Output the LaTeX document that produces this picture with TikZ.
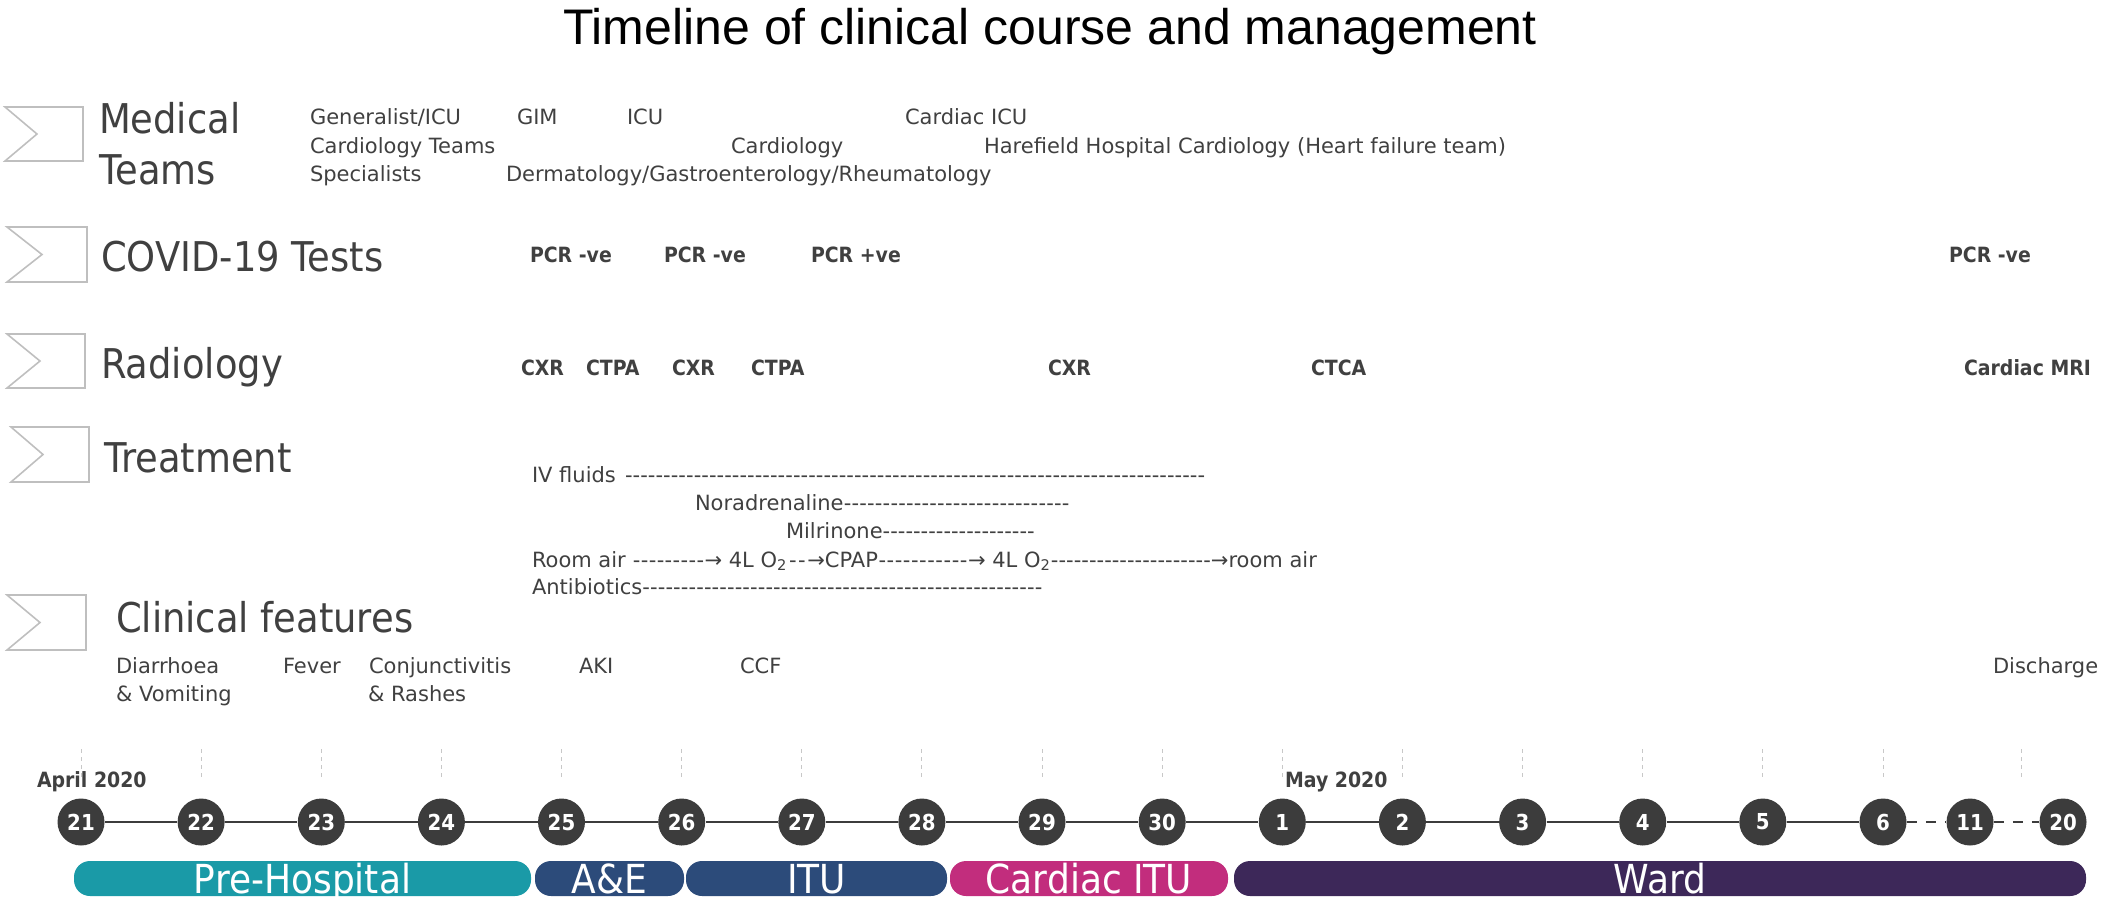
\documentclass[tikz,border=0pt]{standalone}
\usepackage{fontspec}
\setmainfont{DejaVu Sans}
\newfontfamily\condf{DejaVu Sans}[FakeStretch=0.9]
\newfontfamily\titlef{Liberation Sans}
\definecolor{txtgray}{HTML}{404040}
\definecolor{chevgray}{HTML}{BFBFBF}
\definecolor{gridgray}{HTML}{C8C8C8}
\definecolor{circgray}{HTML}{3C3C3C}
\definecolor{cteal}{HTML}{1A9AA7}
\definecolor{cnavy}{HTML}{2C4B7A}
\definecolor{cmag}{HTML}{C22D7D}
\definecolor{cpurp}{HTML}{3D2859}
\newcommand\dashrun[1]{\hbox to #1{\xleaders\hbox{-}\hfill}}
\begin{document}
\begin{tikzpicture}[x=0.5pt,y=-0.5pt,
  chev/.style={draw=chevgray, line width=0.8pt},
  head/.style={anchor=base west, inner sep=0pt, outer sep=0pt, text=txtgray, font=\condf\fontsize{20.5pt}{24pt}\selectfont},
  txt/.style={anchor=base west, inner sep=0pt, outer sep=0pt, text=txtgray, font=\fontsize{10.5pt}{13pt}\selectfont},
  btxt/.style={anchor=base west, inner sep=0pt, outer sep=0pt, text=txtgray, font=\condf\bfseries\fontsize{10.5pt}{13pt}\selectfont},
  day/.style={circle, fill=circgray, minimum size=23.5pt, inner sep=0pt, text=white, font=\condf\bfseries\fontsize{11pt}{12pt}\selectfont},
  gridl/.style={draw=gridgray, line width=0.5pt, dash pattern=on 2pt off 2pt},
  tline/.style={draw=circgray, line width=1.2pt},
  tdash/.style={draw=circgray, line width=1.3pt, dash pattern=on 5pt off 4.5pt},
  phase/.style={rectangle, rounded corners=8pt, minimum height=17.5pt, inner sep=0pt},
  phasetxt/.style={anchor=base, inner sep=0pt, text=white, font=\condf\fontsize{20pt}{24pt}\selectfont}
]
\useasboundingbox (0,0) rectangle (2102,896);

% title
\node[anchor=base, inner sep=0pt, font=\titlef\fontsize{25pt}{30pt}\selectfont] (title) at (1050,44) {Timeline of clinical course and management};

% chevrons
\draw[chev] (5,107) -- (83,107) -- (83,161) -- (5,161) -- (37,134) -- cycle;
\draw[chev] (7,227) -- (87,227) -- (87,282) -- (7,282) -- (42,254.5) -- cycle;
\draw[chev] (7,334) -- (85,334) -- (85,388) -- (7,388) -- (40,361) -- cycle;
\draw[chev] (11,427) -- (89,427) -- (89,482) -- (11,482) -- (43,454.5) -- cycle;
\draw[chev] (7,595) -- (86,595) -- (86,650) -- (7,650) -- (40,622.5) -- cycle;

% headings
\node[head] (hmed) at (99,133) {Medical};
\node[head] (hteams) at (99,184) {Teams};
\node[head] (hcovid) at (101,271) {COVID-19 Tests};
\node[head] (hrad) at (101,378) {Radiology};
\node[head] (htreat) at (104,472) {Treatment};
\node[head] (hclin) at (116,632) {Clinical features};

% medical teams
\node[txt] (m1) at (310,124) {Generalist/ICU};
\node[txt] (m2) at (517,124) {GIM};
\node[txt] (m3) at (627,124) {ICU};
\node[txt] (m4) at (905,124) {Cardiac ICU};
\node[txt] (m5) at (310,153) {Cardiology Teams};
\node[txt] (m6) at (731,153) {Cardiology};
\node[txt] (m7) at (984,153) {Harefield Hospital Cardiology (Heart failure team)};
\node[txt] (m8) at (310,181) {Specialists};
\node[txt] (m9) at (506,181) {Dermatology/Gastroenterology/Rheumatology};

% covid tests
\node[btxt] (c1) at (530,262) {PCR -ve};
\node[btxt] (c2) at (664,262) {PCR -ve};
\node[btxt] (c3) at (811,262) {PCR +ve};
\node[btxt] (c4) at (1949,262) {PCR -ve};

% radiology
\node[btxt] (r1) at (521,375) {CXR};
\node[btxt] (r2) at (586,375) {CTPA};
\node[btxt] (r3) at (672,375) {CXR};
\node[btxt] (r4) at (751,375) {CTPA};
\node[btxt] (r5) at (1048,375) {CXR};
\node[btxt] (r6) at (1311,375) {CTCA};
\node[btxt] (r7) at (1964,375) {Cardiac MRI};

% treatment
\node[txt] (t1) at (532,482) {IV fluids};
\node[txt] (t1d) at (625,482) {\dashrun{290pt}};
\node[txt] (t2) at (695,510) {Noradrenaline\dashrun{113pt}};
\node[txt] (t3) at (786,538) {Milrinone\dashrun{76pt}};
\node[txt] (t4) at (532,567) {Room air \dashrun{36pt}→ 4L O\textsubscript{2}\dashrun{10pt}→CPAP\dashrun{45pt}→ 4L O\textsubscript{2}\dashrun{80pt}→room air};
\node[txt] (t5) at (532,594) {Antibiotics\dashrun{200pt}};

% clinical features
\node[txt] (f1) at (116,673) {Diarrhoea};
\node[txt] (f1b) at (116,701) {\& Vomiting};
\node[txt] (f2) at (283,673) {Fever};
\node[txt] (f3) at (369,673) {Conjunctivitis};
\node[txt] (f3b) at (368,701) {\& Rashes};
\node[txt] (f4) at (579,673) {AKI};
\node[txt] (f5) at (740,673) {CCF};
\node[txt] (f6) at (1993,673) {Discharge};

% month labels
\node[btxt] (apr) at (37,787) {April 2020};
\node[btxt] (may) at (1285,787) {May 2020};

% grid lines and day circles
\foreach \xx in {81,201.1,321.3,441.4,561.5,681.7,801.8,921.9,1042,1162.2,1282.3,1402.4,1522.6,1642.7,1762.8,1883,2021}
  \draw[gridl] (\xx,749) -- (\xx,779);
\foreach \n/\xx/\lab in {1/81/21,2/201.1/22,3/321.3/23,4/441.4/24,5/561.5/25,6/681.7/26,7/801.8/27,8/921.9/28,9/1042/29,10/1162.2/30,11/1282.3/1,12/1402.4/2,13/1522.6/3,14/1642.7/4,15/1762.8/5,16/1883/6,17/1970/11,18/2063/20}
  \node[day] (d\n) at (\xx,822) {\lab};
\foreach \a/\b in {1/2,2/3,3/4,4/5,5/6,6/7,7/8,8/9,9/10,10/11,11/12,12/13,13/14,14/15,15/16}
  \draw[tline] (d\a) -- (d\b);
\draw[tdash] (d16) -- (d17);
\draw[tdash] (d17) -- (d18);

% phase bars
\node[phase, fill=cteal, minimum width=228.5pt] (bpre) at (302.5,878.5) {};
\node[phase, fill=cnavy, minimum width=74.5pt] (bae) at (609.5,878.5) {};
\node[phase, fill=cnavy, minimum width=130.5pt] (bitu) at (816.5,878.5) {};
\node[phase, fill=cmag, minimum width=139pt] (bcitu) at (1089,878.5) {};
\node[phase, fill=cpurp, minimum width=426pt] (bward) at (1660,878.5) {};
\node[phasetxt] (lpre) at (302.5,893) {Pre-Hospital};
\node[phasetxt] (lae) at (609.5,893) {A\&E};
\node[phasetxt] (litu) at (816.5,893) {ITU};
\node[phasetxt] (lcitu) at (1089,893) {Cardiac ITU};
\node[phasetxt] (lward) at (1660,893) {Ward};
\end{tikzpicture}
\end{document}
